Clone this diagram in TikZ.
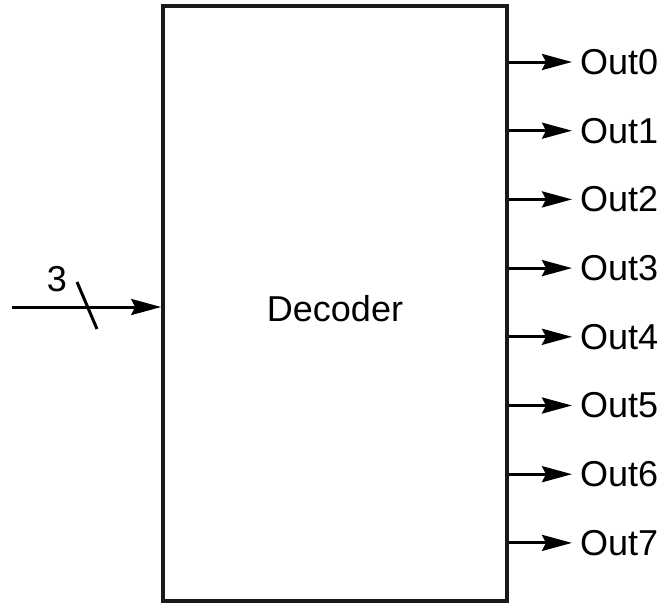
\documentclass[tikz,border=0pt]{standalone}
\usepackage{fontspec}
\setmainfont{Liberation Sans}
\usepackage{tikz}
\usetikzlibrary{arrows.meta, positioning}
\tikzstyle{block} = [rectangle, draw=black!90, line width=3.6pt, minimum width=344pt, minimum height=595pt, inner sep=0pt]
\tikzstyle{arrow} = [line width=3pt, -{Stealth[length=30pt, width=16pt, inset=4pt]}]
\tikzstyle{label} = [inner xsep=8pt, inner ysep=0pt, anchor=west]

\begin{document}
\begin{tikzpicture}[x=1pt, y=-1pt, every node/.style={font=\fontsize{36}{42}\selectfont}]
    \useasboundingbox (0,0) rectangle (667,606);
    \node (dec) [block] at (335,303.5) {};
    \node (dectext) at ([yshift=-5pt]dec.center) {Decoder};

    % outputs
    \foreach \i in {0,...,7} {
        \coordinate (o\i) at (dec.east |- 0,{62+68.7*\i});
        \node (out\i) [label] at (572,{62+68.7*\i}) {Out\i};
        \draw [arrow] (o\i) -- (out\i.west);
    }

    % input bus
    \coordinate (in) at (12,307);
    \draw [arrow] (in) -- (dec.west |- in);
    \draw [line width=3pt] (77,282) -- (97,329);
    \node (n) at (57,279) {3};
\end{tikzpicture}
\end{document}
